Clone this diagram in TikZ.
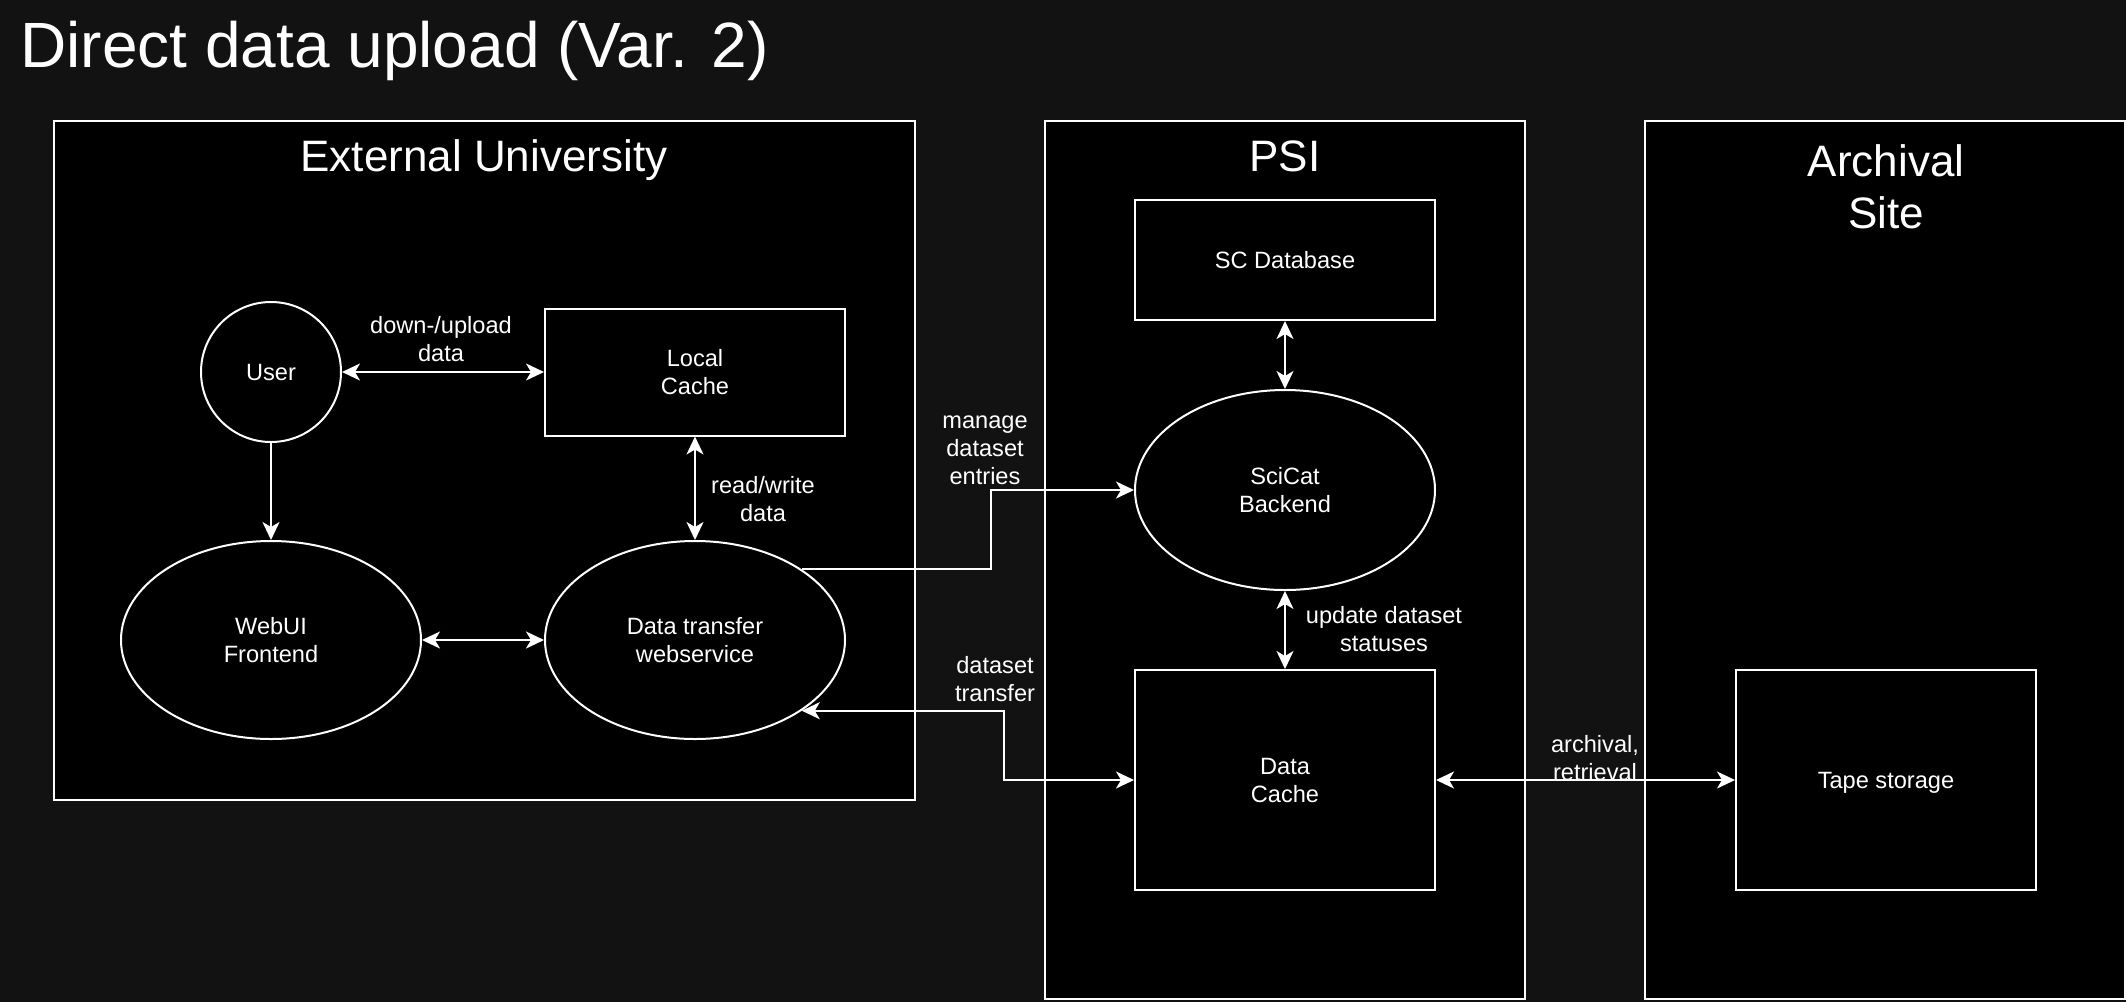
\documentclass[tikz,border=0pt]{standalone}
\usepackage{fontspec}
\setmainfont{Liberation Sans}
\usepackage{tikz}
\usetikzlibrary{arrows.meta}
\usetikzlibrary{shapes.geometric}
\definecolor{bg}{RGB}{18,18,18}
\newcommand{\edgefont}{\fontsize{11.8}{14}\selectfont}
\newcommand{\zonefont}{\fontsize{22}{26}\selectfont}
\newcommand{\headfont}{\fontsize{32}{38}\selectfont}
\tikzset{>={Stealth[length=9pt, width=8.5pt, inset=2.5pt]}}
\tikzstyle{zone} = [draw=white, fill=black, line width=1pt, inner sep=0]
\tikzstyle{block} = [draw=white, fill=black, line width=1pt, text=white, align=center, inner sep=0, text depth=0pt, minimum width=150pt, font=\edgefont]
\tikzstyle{blob} = [block, ellipse, minimum height=99pt]
\tikzstyle{lbl} = [text=white, align=center, inner sep=0, font=\edgefont]
\tikzstyle{flow} = [draw=white, line width=1pt]

\begin{document}
\begin{tikzpicture}[x=0.5pt, y=-0.5pt]
\fill [bg] (0,0) rectangle (2126,1002);
\useasboundingbox (0,0) rectangle (2126,1002);
% sites
\node [zone, minimum width=430.5pt, minimum height=339.5pt] (uni) at (484.5, 460.5) {};
\node [zone, minimum width=240pt, minimum height=439pt] (psi) at (1285, 560) {};
\node [zone, minimum width=240pt, minimum height=439pt] (arch) at (1885, 560) {};
\node [lbl, font=\headfont, anchor=base west] (head) at (20, 67) {Direct data upload (Var. 2)};
\node [lbl, font=\zonefont, anchor=base] (unititle) at (484, 171) {External University};
\node [lbl, font=\zonefont, anchor=base] (psititle) at (1285, 171) {PSI};
\node [lbl, font=\zonefont] (archtitle) at (1886, 187) {Archival\\Site};
% components
\node [block, circle, minimum size=70pt] (user) at (271, 372) {User};
\node [block, minimum height=63.5pt] (cache) at (695, 372) {Local\\Cache};
\node [blob] (webui) at (271, 640) {WebUI\\Frontend};
\node [blob] (xfer) at (695, 640) {Data transfer\\webservice};
\node [block, minimum height=60pt] (scdb) at (1285, 260) {SC Database};
\node [blob, minimum height=100pt] (scicat) at (1285, 490) {SciCat\\Backend};
\node [block, minimum height=110pt] (dcache) at (1285, 780) {Data\\Cache};
\node [block, minimum height=110pt] (tape) at (1886, 780) {Tape storage};
% edge labels
\node [lbl] (updown) at (441, 339) {down-/upload\\data};
\node [lbl] (rw) at (763, 499) {read/write\\data};
\node [lbl] (manage) at (985, 450) {manage\\dataset\\entries};
\node [lbl] (transfer) at (995, 679) {dataset\\transfer};
\node [lbl] (update) at (1384, 629) {update dataset\\statuses};
\node [lbl] (archive) at (1595, 758) {archival,\\retrieval};
% connectors
\draw [flow, <->] (user) -- (cache);
\draw [flow, ->] (user) -- (webui);
\draw [flow, <->] (cache) -- (xfer);
\draw [flow, <->] (webui) -- (xfer);
\draw [flow, ->] (xfer.north east) -- ++(189, 0) |- (scicat);
\draw [flow, <->] (dcache.west) -- ++(-130, 0) |- (xfer.south east);
\draw [flow, <->] (scdb) -- (scicat);
\draw [flow, <->] (scicat) -- (dcache);
\draw [flow, <->] (dcache) -- (tape);
\end{tikzpicture}
\end{document}
